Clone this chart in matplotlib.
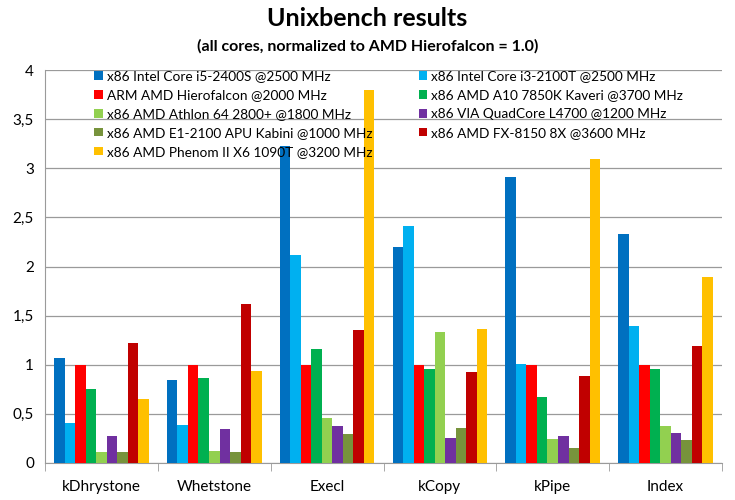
import matplotlib.pyplot as plt
import numpy as np

plt.rcParams['font.family'] = ['Lato', 'DejaVu Sans']

# kategorie testow
tests = ["kDhrystone", "Whetstone", "Execl", "kCopy", "kPipe", "Index"]

# procesory (kolejnosc slupkow)
cpus = [
    "x86 Intel Core i5-2400S @2500 MHz",
    "x86 Intel Core i3-2100T @2500 MHz",
    "ARM AMD Hierofalcon @2000 MHz",
    "x86 AMD A10 7850K Kaveri @3700 MHz",
    "x86 AMD Athlon 64 2800+ @1800 MHz",
    "x86 VIA QuadCore L4700 @1200 MHz",
    "x86 AMD E1-2100 APU Kabini @1000 MHz",
    "x86 AMD FX-8150 8X @3600 MHz",
    "x86 AMD Phenom II X6 1090T @3200 MHz",
]
colors = ["#0070C0", "#00B0F0", "#FF0000", "#00B050", "#92D050",
          "#7030A0", "#77933C", "#C00000", "#FFC000"]

# wyniki dla kazdego procesora
i5 = [1.07, 0.84, 3.23, 2.20, 2.91, 2.33]
i3 = [0.41, 0.39, 2.12, 2.41, 1.01, 1.39]
hierofalcon = [1.0, 1.0, 1.0, 1.0, 1.0, 1.0]
a10 = [0.75, 0.87, 1.16, 0.96, 0.67, 0.96]
athlon = [0.11, 0.12, 0.46, 1.33, 0.24, 0.38]
via = [0.275, 0.35, 0.38, 0.25, 0.27, 0.31]
e1 = [0.11, 0.11, 0.30, 0.36, 0.15, 0.23]
fx = [1.22, 1.62, 1.35, 0.93, 0.89, 1.19]
phenom = [0.65, 0.94, 3.80, 1.36, 3.09, 1.89]
values = [i5, i3, hierofalcon, a10, athlon, via, e1, fx, phenom]

fig = plt.figure(figsize=(7.35, 5), dpi=100)
ax = fig.add_axes([45/735, 37/500, 677/735, 393/500])

x = np.arange(len(tests))
n = len(cpus)
w = 0.84 / n
bars = []
for k in range(n):
    b = ax.bar(x - 0.42 + w * (k + 0.5), values[k], width=w, color=colors[k],
               label=cpus[k], zorder=3)
    bars.append(b)

ax.set_xlim(-0.5, len(tests) - 0.5)
ax.set_ylim(0, 4)
yt = [0, 0.5, 1, 1.5, 2, 2.5, 3, 3.5, 4]
ax.set_yticks(yt)
ax.set_yticklabels([("%g" % v).replace(".", ",") for v in yt], fontsize=11)
ax.tick_params(axis="y", length=0, pad=8)
ax.grid(axis="y", color="#9a9a9a", linewidth=0.9, zorder=0)

ax.set_xticks(x)
ax.set_xticklabels(tests, fontsize=11)
ax.set_xticks(np.arange(-0.5, len(tests)), minor=True)
ax.tick_params(axis="x", which="major", length=0, pad=12)
ax.tick_params(axis="x", which="minor", length=6, color="#9a9a9a")

for s in ["top", "right"]:
    ax.spines[s].set_visible(False)
for s in ["left", "bottom"]:
    ax.spines[s].set_color("#9a9a9a")

# legenda wierszami: najpierw lewa kolumna, potem prawa
order = [0, 2, 4, 6, 8, 1, 3, 5, 7]
leg = ax.legend([bars[i] for i in order], [cpus[i] for i in order],
                loc="upper left", bbox_to_anchor=(0.055, 1.03), ncol=2, frameon=False,
                fontsize=9.8, handlelength=0.6, handleheight=0.6, handletextpad=0.3,
                labelspacing=0.5, columnspacing=3.4)
leg.set_zorder(5)

fig.text(0.5, 0.948, "Unixbench results", ha="center", fontsize=18, fontweight="bold")
fig.text(0.5, 0.898, "(all cores, normalized to AMD Hierofalcon = 1.0)", ha="center",
         fontsize=11.5, fontweight="bold")

fig.savefig("out.png", dpi=100)
